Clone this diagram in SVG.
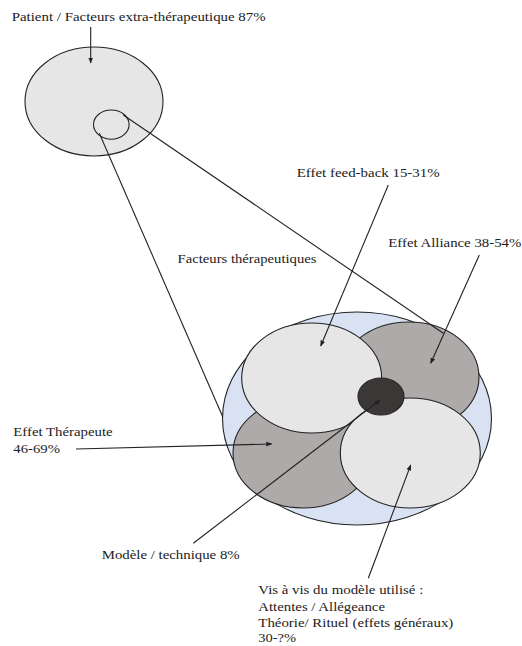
<svg xmlns="http://www.w3.org/2000/svg" width="522" height="646" viewBox="0 0 522 646">
<defs>
<style>
.t{font-family:"Liberation Serif","Times New Roman",serif;font-size:13px;fill:#222}
.o{stroke:#222;stroke-width:1.1}
.c{stroke:#222;stroke-width:1.1;fill:none}
</style>
<marker id="ah" viewBox="0 0 10 10" refX="9" refY="5" markerWidth="6" markerHeight="6" orient="auto" markerUnits="userSpaceOnUse">
<path d="M0,1 L10,5 L0,9 Z" fill="#222"/>
</marker>
</defs>
<rect width="522" height="646" fill="#fff"/>
<g id="patient">
<ellipse class="o" cx="94" cy="101.5" rx="69" ry="54.5" fill="#e6e6e6"/>
<ellipse class="o" cx="111.3" cy="124.6" rx="17.8" ry="14.6" fill="#e6e6e6"/>
</g>
<g id="therapeutic">
<ellipse class="o" cx="357" cy="418.5" rx="134.5" ry="106.5" fill="#d9e2f3"/>
</g>
<g id="alliance">
<ellipse class="o" cx="409" cy="377" rx="70" ry="55" fill="#aeaaa9"/>
</g>
<g id="therapeute">
<ellipse class="o" cx="303" cy="453" rx="70" ry="55" fill="#aeaaa9"/>
</g>
<g id="feedback">
<ellipse class="o" cx="311.7" cy="378" rx="70" ry="55" fill="#e6e6e6"/>
</g>
<g id="visavis">
<ellipse class="o" cx="410.3" cy="453" rx="70" ry="55" fill="#e6e6e6"/>
</g>
<g id="modele">
<ellipse class="o" cx="381" cy="396.5" rx="23" ry="18.5" fill="#3b3737"/>
</g>
<g id="connectors">
<line class="c" x1="99.3" y1="133.3" x2="222.7" y2="416.7"/>
<line class="c" x1="123.3" y1="115" x2="443.3" y2="333.3"/>
<line class="c" x1="90.7" y1="27" x2="90.7" y2="63" marker-end="url(#ah)"/>
<line class="c" x1="388.3" y1="185" x2="320.7" y2="346" marker-end="url(#ah)"/>
<line class="c" x1="479.3" y1="255" x2="430.7" y2="363.3" marker-end="url(#ah)"/>
<line class="c" x1="76" y1="449" x2="271.7" y2="444" marker-end="url(#ah)"/>
<line class="c" x1="193.3" y1="543.3" x2="380" y2="400" marker-end="url(#ah)"/>
<line class="c" x1="368.3" y1="578.3" x2="410.7" y2="465" marker-end="url(#ah)"/>
</g>
<g id="labels">
<text class="t" x="11.7" y="20.7" textLength="254" lengthAdjust="spacingAndGlyphs">Patient / Facteurs extra-thérapeutique 87%</text>
<text class="t" x="296.7" y="176.7" textLength="143" lengthAdjust="spacingAndGlyphs">Effet feed-back 15-31%</text>
<text class="t" x="388.3" y="246.7" textLength="133" lengthAdjust="spacingAndGlyphs">Effet Alliance 38-54%</text>
<text class="t" x="177.5" y="262.5" textLength="139" lengthAdjust="spacingAndGlyphs">Facteurs thérapeutiques</text>
<text class="t" x="13.3" y="436" textLength="99.4" lengthAdjust="spacingAndGlyphs">Effet Thérapeute</text>
<text class="t" x="13.3" y="453" textLength="46.7" lengthAdjust="spacingAndGlyphs">46-69%</text>
<text class="t" x="101.7" y="559.3" textLength="138" lengthAdjust="spacingAndGlyphs">Modèle / technique 8%</text>
<text class="t" x="258.3" y="594" textLength="165" lengthAdjust="spacingAndGlyphs">Vis à vis du modèle utilisé :</text>
<text class="t" x="258.3" y="611" textLength="126.7" lengthAdjust="spacingAndGlyphs">Attentes / Allégeance</text>
<text class="t" x="258.3" y="626.7" textLength="195" lengthAdjust="spacingAndGlyphs">Théorie/ Rituel (effets généraux)</text>
<text class="t" x="258.3" y="641.7" textLength="37.7" lengthAdjust="spacingAndGlyphs">30-?%</text>
</g>
</svg>
